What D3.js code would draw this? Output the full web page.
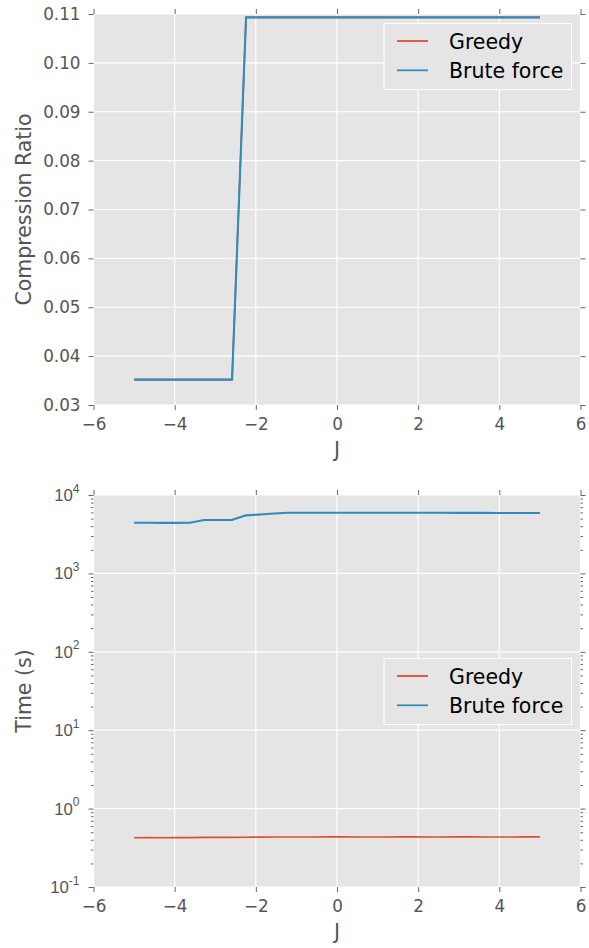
<!DOCTYPE html>
<html>
<head>
<meta charset="utf-8">
<script src="https://cdn.jsdelivr.net/npm/d3@7"></script>
<style>
  html, body { margin: 0; padding: 0; background: #fff; }
  svg { display: block; font-family: "DejaVu Sans", sans-serif; }
</style>
</head>
<body>
<svg id="chart" width="589" height="948"></svg>
<script>
// ---- data ----
const J = [-5.000, -4.655, -4.310, -3.966, -3.621, -3.276, -2.931, -2.586, -2.241, -1.897,
           -1.552, -1.207, -0.862, -0.517, -0.172, 0.172, 0.517, 0.862, 1.207, 1.552,
           1.897, 2.241, 2.586, 2.931, 3.276, 3.621, 3.966, 4.310, 4.655, 5.000];
const ratioGreedy = [0.0352, 0.0352, 0.0352, 0.0352, 0.0352, 0.0352, 0.0352, 0.0352, 0.1093, 0.1093,
                     0.1093, 0.1093, 0.1093, 0.1093, 0.1093, 0.1093, 0.1093, 0.1093, 0.1093, 0.1093,
                     0.1093, 0.1093, 0.1093, 0.1093, 0.1093, 0.1093, 0.1093, 0.1093, 0.1093, 0.1093];
const ratioBrute = [0.0352, 0.0352, 0.0352, 0.0352, 0.0352, 0.0352, 0.0352, 0.0352, 0.1093, 0.1093,
                    0.1093, 0.1093, 0.1093, 0.1093, 0.1093, 0.1093, 0.1093, 0.1093, 0.1093, 0.1093,
                    0.1093, 0.1093, 0.1093, 0.1093, 0.1093, 0.1093, 0.1093, 0.1093, 0.1093, 0.1093];
const timeGreedy = [0.425, 0.428, 0.425, 0.428, 0.426, 0.430, 0.430, 0.430, 0.432, 0.433,
                    0.434, 0.435, 0.435, 0.434, 0.436, 0.436, 0.435, 0.434, 0.435, 0.436,
                    0.436, 0.434, 0.435, 0.436, 0.436, 0.435, 0.435, 0.435, 0.436, 0.436];
const timeBrute = [4430, 4430, 4410, 4410, 4420, 4790, 4800, 4820, 5500, 5650,
                   5800, 5940, 5950, 5950, 5950, 5950, 5945, 5940, 5940, 5935,
                   5935, 5930, 5925, 5920, 5915, 5910, 5905, 5900, 5895, 5890];
const seriesNames = ["Greedy", "Brute force"];
const seriesColors = ["#E24A33", "#348ABD"];
const xTicks = [-6, -4, -2, 0, 2, 4, 6];
const ratioTicks = [0.03, 0.04, 0.05, 0.06, 0.07, 0.08, 0.09, 0.10, 0.11];
const timeTicks = [0.1, 1, 10, 100, 1000, 10000];
const timeTickExp = ["-1", "0", "1", "2", "3", "4"];

// ---- layout ----
const svg = d3.select("#chart");
const L = 93.5, R = 580.5;
const panels = [
  { top: 14, bottom: 405, yLabel: "Compression Ratio", log: false,
    series: [ratioGreedy, ratioBrute], legend: { x: 384, y: 23.5, w: 187.5, h: 66 } },
  { top: 495, bottom: 887, yLabel: "Time (s)", log: true,
    series: [timeGreedy, timeBrute], legend: { x: 384, y: 658.5, w: 187.5, h: 66 } }
];

const x = d3.scaleLinear().domain([-6, 6]).range([L, R]);
const tickColor = "#555555";
const fs = 16.8;
const lfs = 20.5;

panels.forEach(p => {
  const y = p.log
    ? d3.scaleLog().domain([0.1, 10000]).range([p.bottom, p.top])
    : d3.scaleLinear().domain([0.03, 0.11]).range([p.bottom, p.top]);
  const yTicks = p.log ? timeTicks : ratioTicks;
  const g = svg.append("g");

  // background
  g.append("rect").attr("x", L).attr("y", p.top).attr("width", R - L).attr("height", p.bottom - p.top)
    .attr("fill", "#E5E5E5");

  // grid
  g.append("g").selectAll("line").data(xTicks).join("line")
    .attr("x1", d => x(d)).attr("x2", d => x(d)).attr("y1", p.top).attr("y2", p.bottom)
    .attr("stroke", "#fff").attr("stroke-width", 1.2);
  g.append("g").selectAll("line").data(yTicks).join("line")
    .attr("x1", L).attr("x2", R).attr("y1", d => y(d)).attr("y2", d => y(d))
    .attr("stroke", "#fff").attr("stroke-width", 1.2);

  // axes ticks on all sides
  const styleAxis = sel => {
    sel.select(".domain").remove();
    sel.selectAll(".tick line").attr("stroke", tickColor).attr("stroke-width", 0.9);
    sel.selectAll(".tick text").attr("fill", tickColor).attr("font-size", fs)
      .attr("font-family", "DejaVu Sans");
  };
  const ax = g.append("g").attr("transform", `translate(0,${p.bottom})`)
    .call(d3.axisBottom(x).tickValues(xTicks).tickSize(5).tickPadding(8)
      .tickFormat(d => d3.format("d")(d).replace("-", "\u2212")))
    .call(styleAxis);
  ax.selectAll(".tick text").attr("dy", "0.71em");
  g.append("g").attr("transform", `translate(0,${p.top})`)
    .call(d3.axisTop(x).tickValues(xTicks).tickSize(5).tickFormat(""))
    .call(styleAxis);

  if (p.log) {
    const minor = [];
    for (let e = -1; e < 4; e++) for (let m = 2; m <= 9; m++) minor.push(m * Math.pow(10, e));
    g.append("g").attr("transform", `translate(${L},0)`)
      .call(d3.axisLeft(y).tickValues(minor).tickSize(2.5).tickFormat(""))
      .call(styleAxis);
    g.append("g").attr("transform", `translate(${R},0)`)
      .call(d3.axisRight(y).tickValues(minor).tickSize(2.5).tickFormat(""))
      .call(styleAxis);
    const ay = g.append("g").attr("transform", `translate(${L},0)`)
      .call(d3.axisLeft(y).tickValues(yTicks).tickSize(5).tickFormat(""))
      .call(styleAxis);
    ay.selectAll(".tick").each(function(d, i) {
      const t = d3.select(this).append("text")
        .attr("x", -14).attr("y", 5.5).attr("text-anchor", "end")
        .attr("fill", tickColor).attr("font-size", fs);
      t.append("tspan").text("10");
      t.append("tspan").attr("dy", -8.5).attr("font-size", 12).text(timeTickExp[i]);
    });
    g.append("g").attr("transform", `translate(${R},0)`)
      .call(d3.axisRight(y).tickValues(yTicks).tickSize(5).tickFormat(""))
      .call(styleAxis);
  } else {
    g.append("g").attr("transform", `translate(${L},0)`)
      .call(d3.axisLeft(y).tickValues(yTicks).tickSize(5).tickPadding(8)
        .tickFormat(d3.format(".2f")))
      .call(styleAxis);
    g.append("g").attr("transform", `translate(${R},0)`)
      .call(d3.axisRight(y).tickValues(yTicks).tickSize(5).tickFormat(""))
      .call(styleAxis);
  }

  // axis labels
  g.append("text").attr("x", (L + R) / 2).attr("y", p.bottom + 52)
    .attr("text-anchor", "middle").attr("fill", tickColor).attr("font-size", lfs).text("J");
  g.append("text").attr("transform", `translate(31,${(p.top + p.bottom) / 2}) rotate(-90)`)
    .attr("text-anchor", "middle").attr("fill", tickColor).attr("font-size", lfs).text(p.yLabel);

  // lines
  const clipId = "clip" + (p.log ? 1 : 0);
  svg.append("clipPath").attr("id", clipId).append("rect")
    .attr("x", L).attr("y", p.top - 2).attr("width", R - L).attr("height", p.bottom - p.top + 4);
  const line = d3.line().x((d, i) => x(J[i])).y(d => y(d));
  p.series.forEach((s, k) => {
    g.append("path").datum(s).attr("d", line).attr("fill", "none")
      .attr("stroke", seriesColors[k]).attr("stroke-width", k === 0 ? 1.6 : 2.1)
      .attr("stroke-linejoin", "miter").attr("clip-path", `url(#${clipId})`);
  });

  // legend
  const lg = g.append("g").attr("transform", `translate(${p.legend.x},${p.legend.y})`);
  lg.append("rect").attr("width", p.legend.w).attr("height", p.legend.h)
    .attr("fill", "#E5E5E5").attr("stroke", "#fff").attr("stroke-width", 1);
  seriesNames.forEach((n, k) => {
    const yy = 17.5 + k * 29.3;
    lg.append("line").attr("x1", 13).attr("x2", 44).attr("y1", yy).attr("y2", yy)
      .attr("stroke", seriesColors[k]).attr("stroke-width", 1.8);
    lg.append("text").attr("x", 65).attr("y", yy + 7.5).attr("font-size", lfs)
      .attr("fill", "#000").text(n);
  });
});
</script>
</body>
</html>
